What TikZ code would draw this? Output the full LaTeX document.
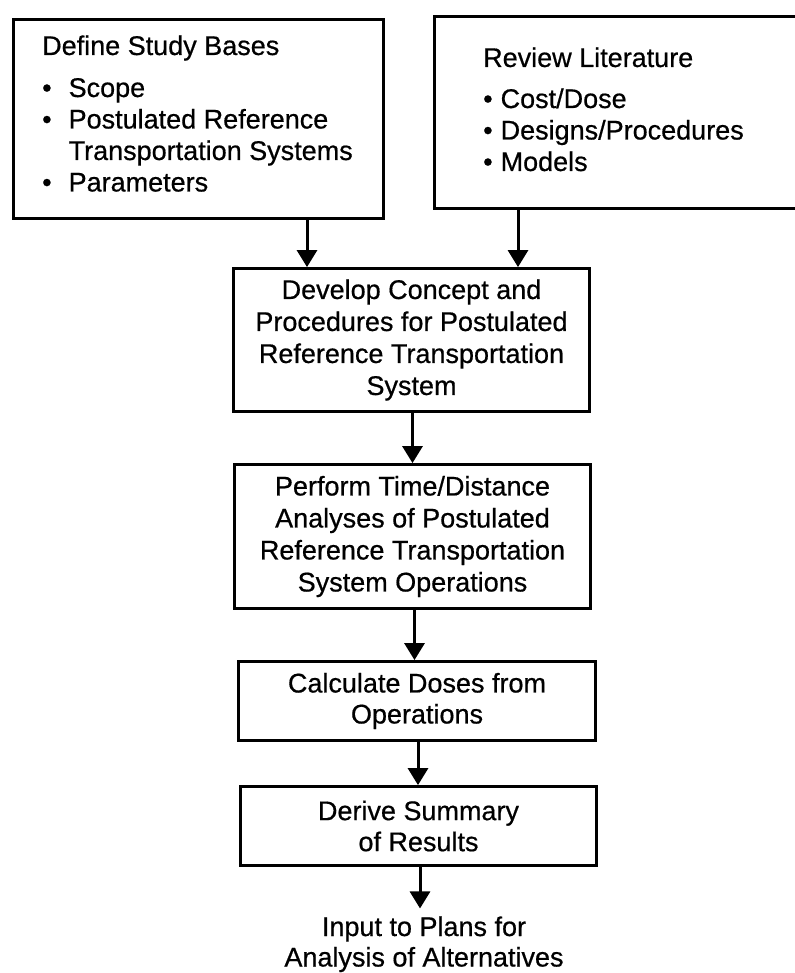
\documentclass[tikz,border=0pt]{standalone}
\usepackage{fontspec}
\setmainfont{Liberation Sans}[FakeBold=0.6]
\usetikzlibrary{arrows.meta}
\begin{document}
\begin{tikzpicture}[x=1pt,y=-1pt,
  box/.style={draw, line width=2.8pt, rectangle, inner sep=0pt},
  flow/.style={line width=3pt, -{Triangle[width=20pt,length=17pt]}},
  body/.style={font=\fontsize{27}{32}\selectfont, align=center},
  tight/.style={font=\fontsize{27}{31}\selectfont, align=center},
  lbl/.style={inner sep=0pt, font=\fontsize{27}{31.5}\selectfont}]
\useasboundingbox (0,0) rectangle (794,973);

% two source boxes
\node[box, minimum width=370pt, minimum height=199pt] (study) at (198.5,119) {};
\node[lbl, anchor=base west] (studytext) at (42,55) {%
  \begin{tabular}[t]{@{}l@{\hspace{17pt}}l@{}}
  \multicolumn{2}{@{}l}{Define Study Bases}\\[10.5pt]
  \textbullet & Scope\\
  \textbullet & Postulated Reference\\
              & Transportation Systems\\
  \textbullet & Parameters
  \end{tabular}};

\node[inner sep=0pt, minimum width=361pt, minimum height=192pt] (lit) at (615.5,112.5) {};
\draw[line width=2.8pt] (lit.north east) -- (lit.north west) -- (lit.south west) -- (lit.south east);
\node[lbl, anchor=base west] (littext) at (483,67) {%
  \begin{tabular}[t]{@{}l@{\hspace{8pt}}l@{}}
  \multicolumn{2}{@{}l}{Review Literature}\\[9.5pt]
  \textbullet & Cost/Dose\\
  \textbullet & Designs/Procedures\\
  \textbullet & Models
  \end{tabular}};

% main chain
\node[box, body, minimum width=356pt, minimum height=143pt] (concept) at (411.5,340)
  {Develop Concept and\\Procedures for Postulated\\Reference Transportation\\System};
\node[box, body, minimum width=356pt, minimum height=144pt] (analysis) at (412.5,536.5)
  {Perform Time/Distance\\Analyses of Postulated\\Reference Transportation\\System Operations};
\node[box, tight, minimum width=357pt, minimum height=79pt] (doses) at (417,701)
  {Calculate Doses from\\Operations};
\node[box, tight, minimum width=356pt, minimum height=79pt] (summary) at (418.5,826)
  {Derive Summary\\of Results};
\node[inner sep=0pt, anchor=base, font=\fontsize{27}{30.5}\selectfont] (output) at (424,936) {%
  \begin{tabular}[t]{@{}c@{}}Input to Plans for\\Analysis of Alternatives\end{tabular}};

% connectors
\path ([xshift=108.5pt]study.south) coordinate (s1);
\path ([xshift=-97.5pt]lit.south) coordinate (s2);
\draw[flow] (s1) -- (s1 |- concept.north);
\draw[flow] (s2) -- (s2 |- concept.north);
\draw[flow] ([xshift=1pt]concept.south) coordinate (c1) -- (c1 |- analysis.north);
\draw[flow] ([xshift=2pt]analysis.south) coordinate (c2) -- (c2 |- doses.north);
\draw[flow] ([xshift=1pt]doses.south) coordinate (c3) -- (c3 |- summary.north);
\draw[flow, shorten >=6pt] ([xshift=1.5pt]summary.south) coordinate (c4) -- (c4 |- output.north);
\end{tikzpicture}
\end{document}
